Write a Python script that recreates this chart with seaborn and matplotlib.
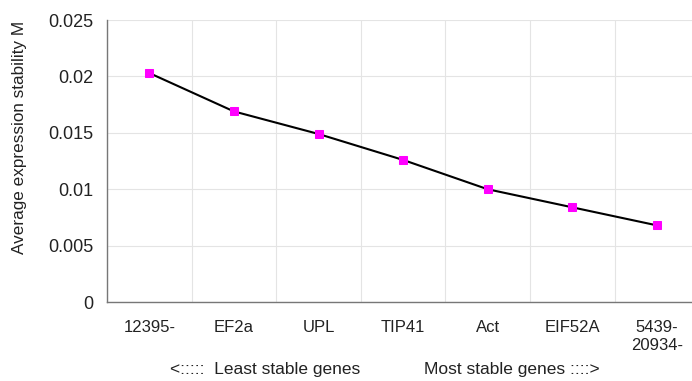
import pandas as pd
import matplotlib.pyplot as plt
import seaborn as sns

genes = ["12395-", "EF2a", "UPL", "TIP41", "Act", "EIF52A", "5439-\n20934-"]
stability = [0.0203, 0.0169, 0.0149, 0.0126, 0.0100, 0.0084, 0.0068]
yticks = [0, 0.005, 0.01, 0.015, 0.02, 0.025]
ytick_labels = ["0", "0.005", "0.01", "0.015", "0.02", "0.025"]

df = pd.DataFrame({"pos": range(len(genes)), "M": stability})

sns.set_style("white")
plt.rcParams["font.family"] = ["Liberation Sans", "DejaVu Sans"]

fig = plt.figure(figsize=(6.92, 3.81), dpi=100)
ax = fig.add_axes([0.1546, 0.207, 0.856, 0.7405])

sns.lineplot(data=df, x="pos", y="M", ax=ax, color="black", linewidth=1.5,
             marker="s", markersize=6, markerfacecolor="#ff00ff",
             markeredgecolor="#ff00ff", zorder=3)

n = len(genes)
ax.set_xlim(-0.5, n - 0.5)
ax.set_ylim(0, 0.025)

# tick marks on category boundaries, labels at category centres
ax.set_xticks([i - 0.5 for i in range(n + 1)])
ax.set_xticklabels([])
ax.set_xticks(range(n), minor=True)
ax.set_xticklabels(genes, minor=True, fontsize=12, color="#222222")
ax.tick_params(axis="x", which="minor", length=0, pad=13)
ax.tick_params(axis="x", which="major", length=4, color="#666666", direction="out")

ax.set_yticks(yticks)
ax.set_yticklabels(ytick_labels, fontsize=13, color="#222222")
ax.tick_params(axis="y", length=4, color="#666666", direction="out", pad=6)

ax.grid(True, which="major", color="#e4e4e4", linewidth=0.8)
ax.set_axisbelow(True)

for s in ["top", "right"]:
    ax.spines[s].set_visible(False)
for s in ["left", "bottom"]:
    ax.spines[s].set_color("#777777")
    ax.spines[s].set_linewidth(1.0)

ax.set_xlabel("")
ax.set_ylabel("Average expression stability M", fontsize=12.3, color="#222222")
ax.yaxis.set_label_coords(-0.135, 0.585)

fig.text(0.383, 0.018, "<:::::  Least stable genes", fontsize=12.5, ha="center", color="#222222")
fig.text(0.74, 0.018, "Most stable genes ::::>", fontsize=12.5, ha="center", color="#222222")

fig.savefig("out.png", dpi=100)
